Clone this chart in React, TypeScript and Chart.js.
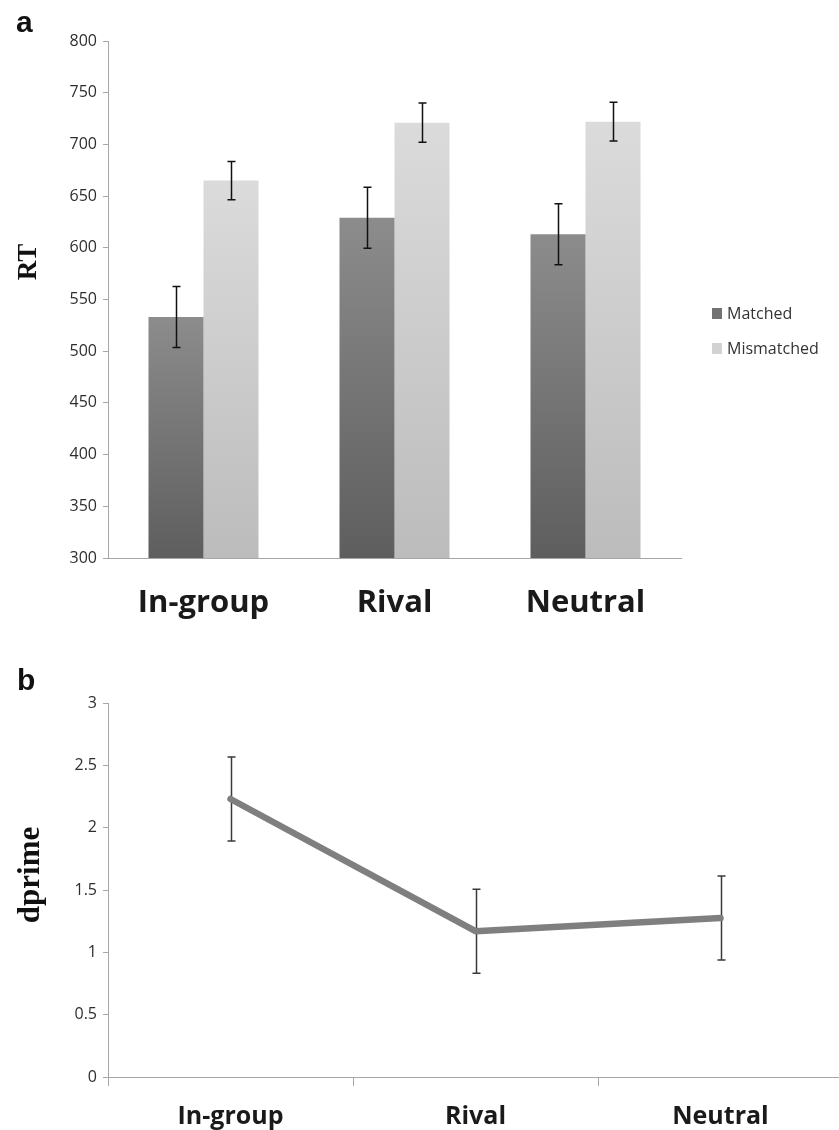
import React, { useEffect, useRef } from "react";
import { Chart, registerables } from "chart.js";

Chart.register(...registerables);

// ---------- data ----------
const categories = ["In-group", "Rival", "Neutral"];
const seriesNames = ["Matched", "Mismatched"];
const matchedRT = [533, 629, 613];
const mismatchedRT = [665, 721, 722];
const matchedErr = [29.5, 29.5, 29.5];
const mismatchedErr = [18.5, 19, 18.7];
const rtMin = 300;
const rtMax = 800;
const rtStep = 50;

const dprimeValues = [2.23, 1.17, 1.275];
const dprimeErr = [0.337, 0.337, 0.337];
const dMin = 0;
const dMax = 3;
const dStep = 0.5;

// ---------- styles ----------
const AXIS = "#a6a6a6";
const TICK_FONT = { family: "Open Sans", size: 16 };
const TICK_COLOR = "#2e2e2e";

function barGradient(top: string, bottom: string, solid: string) {
  return (c: any) => {
    const chart = c.chart;
    if (!chart.chartArea || c.raw === undefined) return solid;
    const y = chart.scales.y;
    const t = y.getPixelForValue(c.raw);
    const b = y.getPixelForValue(y.min);
    if (!isFinite(t) || !isFinite(b) || b - t < 1) return solid;
    const g = chart.ctx.createLinearGradient(0, t, 0, b);
    g.addColorStop(0, top);
    g.addColorStop(1, bottom);
    return g;
  };
}

const errorBarsPlugin = {
  id: "errorBars",
  draw(chart: any, opts: any) {
    const { ctx } = chart;
    const y = chart.scales.y;
    chart.data.datasets.forEach((ds: any, i: number) => {
      if (!ds.errors) return;
      const meta = chart.getDatasetMeta(i);
      meta.data.forEach((el: any, j: number) => {
        const v = ds.data[j];
        const e = ds.errors[j];
        const top = y.getPixelForValue(v + e);
        const bot = y.getPixelForValue(v - e);
        const x = Math.round(el.x) + 0.5;
        ctx.save();
        ctx.strokeStyle = opts.color;
        ctx.lineWidth = opts.width;
        ctx.beginPath();
        ctx.moveTo(x, top);
        ctx.lineTo(x, bot);
        ctx.moveTo(x - opts.cap, top);
        ctx.lineTo(x + opts.cap, top);
        ctx.moveTo(x - opts.cap, bot);
        ctx.lineTo(x + opts.cap, bot);
        ctx.stroke();
        ctx.restore();
      });
    });
  },
  beforeDatasetsDraw(chart: any, _a: any, opts: any) {
    if (opts.under) (this as any).draw(chart, opts);
  },
  afterDatasetsDraw(chart: any, _a: any, opts: any) {
    if (!opts.under) (this as any).draw(chart, opts);
  },
};

const textPlugin = {
  id: "sideTexts",
  afterDraw(chart: any, _a: any, opts: any) {
    const { ctx } = chart;
    (opts.items || []).forEach((it: any) => {
      ctx.save();
      ctx.font = it.font;
      ctx.fillStyle = it.color || "#000";
      ctx.translate(it.x, it.y);
      if (it.rotate) ctx.rotate(it.rotate);
      ctx.textAlign = it.align || "left";
      ctx.textBaseline = it.baseline || "alphabetic";
      ctx.fillText(it.text, 0, 0);
      ctx.restore();
    });
  },
};

const customLegendPlugin = {
  id: "customLegend",
  afterDraw(chart: any, _a: any, opts: any) {
    if (!opts.show) return;
    const { ctx } = chart;
    chart.data.datasets.forEach((ds: any, i: number) => {
      const bx = opts.x;
      const by = opts.y + i * opts.spacing;
      ctx.save();
      ctx.fillStyle = ds.legendColor;
      ctx.fillRect(bx, by, opts.box, opts.box + 1);
      ctx.font = opts.font;
      ctx.fillStyle = opts.color;
      ctx.textAlign = "left";
      ctx.textBaseline = "middle";
      ctx.fillText(ds.label, bx + opts.box + 5, by + (opts.box + 1) / 2 + 1);
      ctx.restore();
    });
  },
};

export default function App() {
  const refA = useRef<HTMLCanvasElement>(null);
  const refB = useRef<HTMLCanvasElement>(null);

  useEffect(() => {
    const chartA = new Chart(refA.current!, {
      type: "bar",
      data: {
        labels: categories,
        datasets: [
          {
            label: seriesNames[0],
            data: matchedRT,
            errors: matchedErr,
            legendColor: "#727272",
            backgroundColor: barGradient("#8c8c8c", "#5e5e5e", "#767676"),
            borderWidth: 0,
            categoryPercentage: 0.576,
            barPercentage: 1,
          } as any,
          {
            label: seriesNames[1],
            data: mismatchedRT,
            errors: mismatchedErr,
            legendColor: "#d2d2d2",
            backgroundColor: barGradient("#dbdbdb", "#bcbcbc", "#cccccc"),
            borderWidth: 0,
            categoryPercentage: 0.576,
            barPercentage: 1,
          } as any,
        ],
      },
      options: {
        responsive: false,
        animation: false,
        layout: { padding: { top: 41, left: 0, right: 158, bottom: 0 } },
        scales: {
          x: {
            grid: { display: false },
            border: { display: true, color: AXIS, width: 1 },
            ticks: {
              font: { family: "Open Sans", size: 31, weight: "bold" },
              color: "#1a1a1a",
              padding: 19,
              maxRotation: 0,
            },
            afterFit: (s: any) => {
              s.height = 82;
            },
          },
          y: {
            min: rtMin,
            max: rtMax,
            ticks: { stepSize: rtStep, font: TICK_FONT, color: TICK_COLOR, padding: 6 },
            grid: { drawOnChartArea: false, tickLength: 5, color: AXIS },
            border: { display: true, color: AXIS, width: 1 },
            afterFit: (s: any) => {
              s.width = 108;
            },
          },
        },
        plugins: {
          legend: { display: false },
          tooltip: { enabled: false },
          errorBars: { color: "#111111", width: 1.5, cap: 4, under: false },
          customLegend: {
            show: true,
            x: 712,
            y: 308,
            spacing: 35,
            box: 10,
            font: "16px 'Open Sans'",
            color: "#333333",
          },
          sideTexts: {
            items: [
              { text: "a", x: 16, y: 32, font: "bold 30px 'Liberation Sans'", color: "#111" },
              {
                text: "RT",
                x: 36,
                y: 262,
                rotate: -Math.PI / 2,
                align: "center",
                baseline: "alphabetic",
                font: "bold 27px 'Liberation Serif'",
                color: "#111",
              },
            ],
          },
        } as any,
      },
      plugins: [errorBarsPlugin, textPlugin, customLegendPlugin],
    });

    const chartB = new Chart(refB.current!, {
      type: "line",
      data: {
        labels: categories,
        datasets: [
          {
            label: "dprime",
            data: dprimeValues,
            errors: dprimeErr,
            borderColor: "#7f7f7f",
            borderWidth: 6.5,
            pointRadius: 0,
            fill: false,
            tension: 0,
            borderCapStyle: "round",
            borderJoinStyle: "round",
          } as any,
        ],
      },
      options: {
        responsive: false,
        animation: false,
        layout: { padding: { top: 63, left: 0, right: 0, bottom: 0 } },
        scales: {
          x: {
            offset: true,
            grid: { display: true, offset: true, drawOnChartArea: false, tickLength: 9, color: AXIS },
            border: { display: true, color: AXIS, width: 1 },
            ticks: {
              font: { family: "Open Sans", size: 25, weight: "bold" },
              color: "#1a1a1a",
              padding: 16,
              maxRotation: 0,
            },
            afterFit: (s: any) => {
              s.height = 53;
            },
          },
          y: {
            min: dMin,
            max: dMax,
            ticks: {
              stepSize: dStep,
              font: TICK_FONT,
              color: TICK_COLOR,
              padding: 6,
              callback: (v: any) => String(Number(v)),
            },
            grid: { drawOnChartArea: false, tickLength: 5, color: AXIS },
            border: { display: true, color: AXIS, width: 1 },
            afterFit: (s: any) => {
              s.width = 108;
            },
          },
        },
        plugins: {
          legend: { display: false },
          tooltip: { enabled: false },
          errorBars: { color: "#3a3a3a", width: 1.5, cap: 4, under: true },
          customLegend: { show: false },
          sideTexts: {
            items: [
              { text: "b", x: 17, y: 50, font: "bold 30px 'Liberation Sans'", color: "#111" },
              {
                text: "dprime",
                x: 39,
                y: 235,
                rotate: -Math.PI / 2,
                align: "center",
                baseline: "alphabetic",
                font: "bold 31px 'Liberation Serif'",
                color: "#111",
              },
            ],
          },
        } as any,
      },
      plugins: [errorBarsPlugin, textPlugin, customLegendPlugin],
    });

    return () => {
      chartA.destroy();
      chartB.destroy();
    };
  }, []);

  return (
    <div
      style={{
        position: "absolute",
        left: 0,
        top: 0,
        width: 839,
        height: 1130,
        overflow: "hidden",
        background: "#fff",
      }}
    >
      <canvas
        ref={refA}
        width={839}
        height={640}
        style={{ position: "absolute", left: 0, top: 0, width: 839, height: 640 }}
      />
      <canvas
        ref={refB}
        width={843}
        height={490}
        style={{ position: "absolute", left: 0, top: 640, width: 843, height: 490 }}
      />
    </div>
  );
}
